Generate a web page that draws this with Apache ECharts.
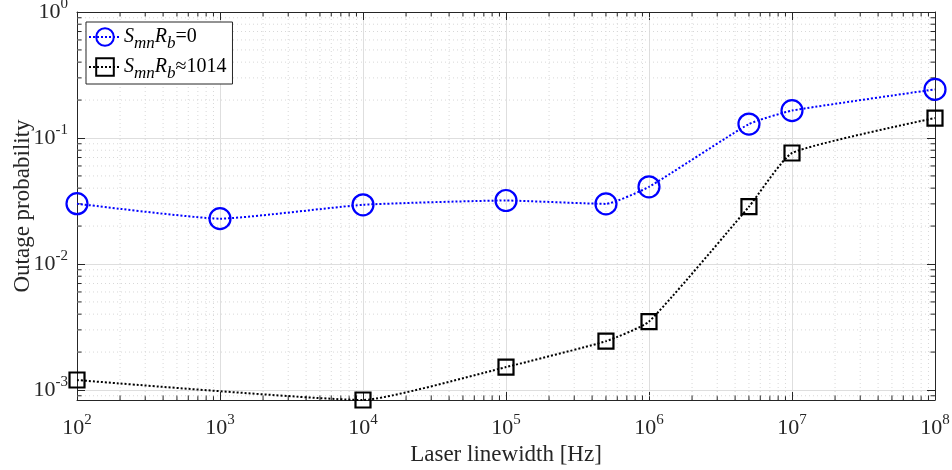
<!DOCTYPE html>
<html>
<head>
<meta charset="utf-8">
<script src="https://cdn.jsdelivr.net/npm/echarts@6/dist/echarts.min.js"></script>
<style>
  html, body { margin: 0; padding: 0; background: #fff; }
  #chart { width: 952px; height: 470px; }
</style>
</head>
<body>
<div id="chart"></div>
<script>
const linewidths = [1e2, 1e3, 1e4, 1e5, 5e5, 1e6, 5e6, 1e7, 1e8];
const outageNoNoise = [0.0301, 0.0229, 0.0295, 0.0319, 0.0300, 0.0410, 0.129, 0.165, 0.243];
const outageNoise = [1.20e-3, null, 8.33e-4, 1.52e-3, 2.44e-3, 3.49e-3, 0.0285, 0.076, 0.144];
const seriesNames = ['S_mn R_b=0', 'S_mn R_b≈1014'];

const xMin = 1e2, xMax = 1e8;
const yMin = 8.33e-4, yMax = 1;

// minor tick positions (2..9 times each decade)
function minorValues(lo, hi) {
    const out = [];
    for (let e = Math.floor(Math.log10(lo)); e < Math.ceil(Math.log10(hi)); e++) {
        for (let k = 2; k <= 9; k++) {
            const v = k * Math.pow(10, e);
            if (v > lo && v < hi) out.push(v);
        }
    }
    return out;
}
const xMinor = minorValues(xMin, xMax);
const yMinor = minorValues(yMin, yMax);

const font = 'Liberation Serif';
const ink = '#262626';

function powLabel(v) {
    const e = Math.log10(v);
    if (Math.abs(e - Math.round(e)) > 1e-6) return '';
    return '{b|10}{sup|' + Math.round(e) + '}';
}
const powRich = {
    b: { fontFamily: font, fontSize: 22, color: ink },
    sup: { fontFamily: font, fontSize: 15, color: ink, padding: [0, 0, 15, 0] }
};

function pairPoints(vals) {
    const pts = [];
    linewidths.forEach((x, i) => { if (vals[i] != null) pts.push([x, vals[i]]); });
    return pts;
}

const chart = echarts.init(document.getElementById('chart'), null, { renderer: 'canvas' });

const minorGridX = {
    type: 'custom',
    silent: true,
    z: 1,
    data: xMinor.map(v => [v, yMin]),
    encode: { x: 0, y: 1 },
    renderItem: (params, api) => {
        const v = api.value(0);
        const top = api.coord([v, yMax]);
        const bot = api.coord([v, yMin]);
        return {
            type: 'group',
            children: [
                { type: 'line', shape: { x1: bot[0], y1: bot[1], x2: top[0], y2: top[1] },
                  style: { stroke: '#d8d8d8', lineWidth: 1, lineDash: [1, 3] } },
                { type: 'line', shape: { x1: bot[0], y1: bot[1], x2: bot[0], y2: bot[1] - 4.5 },
                  style: { stroke: ink, lineWidth: 1 } },
                { type: 'line', shape: { x1: top[0], y1: top[1], x2: top[0], y2: top[1] + 4.5 },
                  style: { stroke: ink, lineWidth: 1 } }
            ]
        };
    }
};

const minorGridY = {
    type: 'custom',
    silent: true,
    z: 1,
    data: yMinor.map(v => [xMin, v]),
    encode: { x: 0, y: 1 },
    renderItem: (params, api) => {
        const v = api.value(1);
        const l = api.coord([xMin, v]);
        const r = api.coord([xMax, v]);
        return {
            type: 'group',
            children: [
                { type: 'line', shape: { x1: l[0], y1: l[1], x2: r[0], y2: r[1] },
                  style: { stroke: '#d8d8d8', lineWidth: 1, lineDash: [1, 3] } },
                { type: 'line', shape: { x1: l[0], y1: l[1], x2: l[0] + 4.5, y2: l[1] },
                  style: { stroke: ink, lineWidth: 1 } },
                { type: 'line', shape: { x1: r[0], y1: r[1], x2: r[0] - 4.5, y2: r[1] },
                  style: { stroke: ink, lineWidth: 1 } }
            ]
        };
    }
};

const legendRich = {
    i: { fontFamily: font, fontSize: 20, fontStyle: 'italic', color: '#000', lineHeight: 22 },
    sub: { fontFamily: font, fontSize: 17, fontStyle: 'italic', color: '#000', lineHeight: 18, padding: [13, 0, 0, 0] },
    n: { fontFamily: font, fontSize: 20, color: '#000', lineHeight: 22 }
};

function legendText(name) {
    const rest = name.split('R_b')[1];
    return '{i|S}{sub|mn}{i|R}{sub|b}{n|' + rest + '}';
}

const axisCommon = {
    type: 'log',
    logBase: 10,
    axisLine: { show: true, onZero: false, lineStyle: { color: ink, width: 1 } },
    axisTick: { show: true, inside: true, length: 8, lineStyle: { color: ink } },
};

chart.setOption({
    animation: false,
    backgroundColor: '#fff',
    grid: { left: 77, right: 17, top: 12, bottom: 70, containLabel: false, outerBoundsMode: 'none' },
    legend: {
        orient: 'vertical',
        left: 86,
        top: 22,
        padding: [0, 6, 2, 2],
        itemGap: 0,
        itemWidth: 32,
        itemHeight: 22,
        backgroundColor: '#fff',
        borderColor: ink,
        borderWidth: 1,
        borderRadius: 0,
        data: seriesNames,
        formatter: legendText,
        textStyle: { rich: legendRich, padding: [0, 0, 0, -2] }
    },
    xAxis: [
        Object.assign({}, axisCommon, {
            min: xMin, max: xMax,
            name: 'Laser linewidth [Hz]',
            nameLocation: 'middle',
            nameGap: 43,
            nameMoveOverlap: false,
            nameTextStyle: { fontFamily: font, fontSize: 23, color: ink },
            axisLabel: { margin: 13, formatter: powLabel, rich: powRich },
            splitLine: { show: true, lineStyle: { color: '#dedede', width: 1 } }
        }),
        Object.assign({}, axisCommon, {
            min: xMin, max: xMax, position: 'top',
            axisLabel: { show: false },
            splitLine: { show: false }
        })
    ],
    yAxis: [
        Object.assign({}, axisCommon, {
            min: yMin, max: yMax,
            name: 'Outage probability',
            nameLocation: 'middle',
            nameGap: 43,
            nameMoveOverlap: false,
            nameTextStyle: { fontFamily: font, fontSize: 23, color: ink },
            axisLabel: { margin: 9, formatter: powLabel, rich: powRich },
            splitLine: { show: true, lineStyle: { color: '#dedede', width: 1 } }
        }),
        Object.assign({}, axisCommon, {
            min: yMin, max: yMax, position: 'right',
            axisLabel: { show: false },
            splitLine: { show: false }
        })
    ],
    series: [
        minorGridX,
        minorGridY,
        {
            name: seriesNames[0],
            type: 'line',
            z: 3,
            data: pairPoints(outageNoNoise),
            smooth: 0.15,
            symbol: 'circle',
            symbolSize: 21,
            lineStyle: { color: '#0000ff', width: 2, type: 'dotted' },
            itemStyle: { color: 'rgba(255,255,255,0)', borderColor: '#0000ff', borderWidth: 2.2 }
        },
        {
            name: seriesNames[1],
            type: 'line',
            z: 3,
            data: pairPoints(outageNoise),
            smooth: 0.15,
            symbol: 'rect',
            symbolSize: 15,
            lineStyle: { color: '#000', width: 2, type: 'dotted' },
            itemStyle: { color: 'rgba(255,255,255,0)', borderColor: '#000', borderWidth: 2.2 }
        }
    ]
});
</script>
</body>
</html>
